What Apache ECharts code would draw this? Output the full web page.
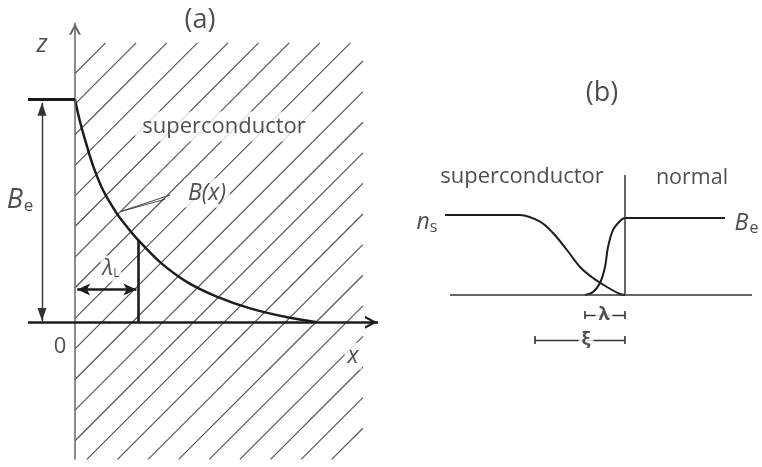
<!DOCTYPE html>
<html>
<head>
<meta charset="utf-8">
<script src="https://cdn.jsdelivr.net/npm/echarts@6/dist/echarts.min.js"></script>
<style>
  html, body { margin: 0; padding: 0; background: #fff; }
  #chart { width: 762px; height: 467px; }
</style>
</head>
<body>
<div id="chart"></div>
<script>
// ---------- Panel (a): field decay inside the superconductor ----------
// depth x in units of the London penetration depth, field in units of B_e
const depthA = [0, 0.08, 0.19, 0.29, 0.45, 0.66, 0.82, 1.0, 1.35, 1.78, 2.25, 2.78, 3.37, 3.84];
const fieldA = [1, 0.90, 0.79, 0.70, 0.59, 0.49, 0.43, 0.37, 0.27, 0.18, 0.115, 0.062, 0.022, 0.0];
const appliedField = 1;      // B_e
const londonDepth = 1;       // λ_L
const fieldAtLondonDepth = 0.37;
// superconductor slab (hatched): x range and z range
const slabX = [0, 4.57];
const slabZ = [-0.616, 1.254];
// axis extents
const xAxisSpanA = [-0.746, 4.81];
const zAxisSpanA = [-0.616, 1.345];
const beArrowX = -0.524;
const lambdaArrowZ = 0.147;

// ---------- Panel (b): N–S interface ----------
// position relative to the interface (arbitrary units), ordinate in units of n_s
const posNs = [-18, -10.5, -8.5, -7.2, -5.8, -4.5, -3.2, -1.8, -0.5, 0];
const valNs = [1, 1, 0.916, 0.775, 0.5625, 0.35, 0.2125, 0.1, 0.0125, 0];
const posB = [-4, -3.2, -2.5, -2, -1.7, -1.2, -0.5, 0, 10];
const valB = [0, 0.0375, 0.15, 0.35, 0.6, 0.81, 0.925, 0.9625, 0.9625];
const baselineSpanB = [-17.5, 12.7];
const interfaceTop = 1.5;
const lambdaSpan = [-4.0, 0];
const xiSpan = [-9.0, 0];
const lambdaRowY = -0.25;
const xiRowY = -0.5625;

const INK = '#1c1c1c';
const TEXT = '#222';
const SANS = '"Open Sans", "Noto Sans", sans-serif';

// arrowheads whose tip sits on the symbol centre (invisible dot sets the box)
const triHead = 'path://M5,12 L9,24 L1,24 Z M5,0 L5.01,0 L5,0.01 Z';
const barbHead = 'path://M5,12 L10,24 L5,21 L0,24 Z M5,0 L5.01,0 L5,0.01 Z';
const chevHead = 'path://M5,12 L10.8,22.5 L8.6,22.5 L5,16 L1.4,22.5 L-0.8,22.5 Z M5,0 L5.01,0 L5,0.01 Z';

function zip(a, b) { return a.map((v, i) => [v, b[i]]); }

function seg(p0, p1, style, s0, s1) {
  return [
    Object.assign({ coord: p0 }, s0 || { symbol: 'none' }),
    Object.assign({ coord: p1, lineStyle: style }, s1 || { symbol: 'none' })
  ];
}

// hatching of the superconducting slab, drawn through the axis scales
function renderHatch(params, api) {
  const p0 = api.coord([api.value(0), api.value(3)]);
  const p1 = api.coord([api.value(2), api.value(1)]);
  const L = p0[0], T = p0[1], R = p1[0], B = p1[1];
  const step = 30.6;
  const children = [];
  for (let C = L + T; C <= R + B + step; C += step) {
    const xs = Math.max(L, C - B);
    const xe = Math.min(R, C - T);
    if (xe - xs > 1) {
      children.push({
        type: 'line',
        shape: { x1: xs, y1: C - xs, x2: xe, y2: C - xe },
        style: { stroke: '#555', lineWidth: 1.2 }
      });
    }
  }
  return { type: 'group', children };
}

function txt(x, y, formatter, extra) {
  return {
    value: [x, y],
    label: Object.assign({
      show: true, position: 'inside', formatter,
      color: TEXT, fontFamily: SANS
    }, extra || {})
  };
}

const labelsA = [
  txt(1.984, 1.357, '(a)', { fontSize: 27 }),
  txt(-0.524, 1.246, 'z', { fontSize: 25, fontStyle: 'italic' }),
  txt(2.365, 0.879, 'superconductor', { fontSize: 22, backgroundColor: '#fff', padding: [4, 7] }),
  txt(2.095, 0.58, 'B(x)', { fontSize: 23, fontStyle: 'italic', backgroundColor: '#fff', padding: [3, 4] }),
  txt(-0.873, 0.549, '{b|B}{s|e}', {
    rich: {
      b: { fontSize: 27, fontStyle: 'italic', color: TEXT, fontFamily: SANS },
      s: { fontSize: 17, color: TEXT, fontFamily: SANS, padding: [12, 0, 0, 1] }
    }
  }),
  txt(0.571, 0.241, '{l|λ}{s|L}', {
    backgroundColor: '#fff', padding: [2, 2],
    rich: {
      l: { fontSize: 22, fontStyle: 'italic', color: TEXT, fontFamily: SANS },
      s: { fontSize: 12, color: TEXT, fontFamily: SANS, padding: [10, 0, 0, 0] }
    }
  }),
  txt(-0.238, -0.112, '0', { fontSize: 22 }),
  txt(4.413, -0.152, 'x', { fontSize: 23, fontStyle: 'italic', backgroundColor: '#fff', padding: [2, 3] })
];

const labelsB = [
  txt(-2.3, 2.525, '(b)', { fontSize: 27 }),
  txt(-10.3, 1.475, 'superconductor', { fontSize: 22 }),
  txt(6.7, 1.4625, 'normal', { fontSize: 21.5 }),
  txt(-19.8, 0.91, '{n|n}{s|s}', {
    rich: {
      n: { fontSize: 23, fontStyle: 'italic', color: TEXT, fontFamily: SANS },
      s: { fontSize: 16, color: TEXT, fontFamily: SANS, padding: [10, 0, 0, 0] }
    }
  }),
  txt(12.15, 0.894, '{b|B}{s|e}', {
    rich: {
      b: { fontSize: 23, fontStyle: 'italic', color: TEXT, fontFamily: SANS },
      s: { fontSize: 16, color: TEXT, fontFamily: SANS, padding: [10, 0, 0, 1] }
    }
  }),
  txt(-2.1, lambdaRowY, 'λ', { fontSize: 18, fontWeight: 'bold', backgroundColor: '#fff', padding: [0, 3] }),
  txt(-3.9, xiRowY, 'ξ', { fontSize: 18, fontWeight: 'bold', backgroundColor: '#fff', padding: [0, 3] })
];

const thin = { color: '#666', width: 1.5, type: 'solid' };
const bold = { color: INK, width: 2.6, type: 'solid' };
const mid = { color: '#333', width: 1.4, type: 'solid' };

const linesA = [
  // z axis
  seg([0, zAxisSpanA[0]], [0, zAxisSpanA[1]], thin, null, { symbol: chevHead, symbolSize: [12, 24] }),
  // x axis
  seg([xAxisSpanA[0], 0], [xAxisSpanA[1], 0], bold, null, { symbol: chevHead, symbolSize: [13, 26] }),
  // applied field level outside
  seg([xAxisSpanA[0], appliedField], [0, appliedField], { color: INK, width: 3, type: 'solid' }),
  // B_e double arrow
  seg([beArrowX, 0.005], [beArrowX, 0.985], mid,
      { symbol: triHead, symbolSize: [9, 26] }, { symbol: triHead, symbolSize: [9, 26] }),
  // λ_L marker
  seg([londonDepth, 0], [londonDepth, fieldAtLondonDepth], bold),
  seg([0.035, lambdaArrowZ], [londonDepth * 0.975, lambdaArrowZ], bold,
      { symbol: barbHead, symbolSize: [12, 26] }, { symbol: barbHead, symbolSize: [12, 26] }),
  // B(x) leader
  seg([0.714, 0.496], [1.508, 0.571], { color: '#444', width: 1, type: 'solid' }),
  seg([0.714, 0.496], [1.43, 0.552], { color: '#444', width: 1, type: 'solid' })
];

const tick = { symbol: 'rect', symbolSize: [8, 1.6] };
const linesB = [
  seg([baselineSpanB[0], 0], [baselineSpanB[1], 0], { color: '#333', width: 1.5, type: 'solid' }),
  seg([0, 0], [0, interfaceTop], { color: '#333', width: 1.5, type: 'solid' }),
  seg([lambdaSpan[0], lambdaRowY], [lambdaSpan[1], lambdaRowY], { color: '#333', width: 1.3, type: 'solid' }, tick, tick),
  seg([xiSpan[0], xiRowY], [xiSpan[1], xiRowY], { color: '#333', width: 1.3, type: 'solid' }, tick, tick)
];

function guideSeries(xi, data) {
  return {
    type: 'line', xAxisIndex: xi, yAxisIndex: xi, data: [], silent: true, z: 2,
    markLine: {
      silent: true, animation: false, label: { show: false },
      emphasis: { disabled: true },
      symbol: 'none', data
    }
  };
}

function labelSeries(xi, data) {
  return {
    type: 'scatter', xAxisIndex: xi, yAxisIndex: xi, symbolSize: 0, clip: false,
    silent: true, z: 10, data
  };
}

const chart = echarts.init(document.getElementById('chart'), null, { renderer: 'canvas' });
chart.setOption({
  animation: false,
  backgroundColor: '#fff',
  grid: [
    { left: 12, top: 10.4, width: 378, height: 459.2 },
    { left: 425, top: 167, width: 335, height: 208 }
  ],
  xAxis: [
    { type: 'value', min: -1, max: 5, show: false, gridIndex: 0 },
    { type: 'value', min: -20, max: 13.5, show: false, gridIndex: 1 }
  ],
  yAxis: [
    { type: 'value', min: -0.65, max: 1.4, show: false, gridIndex: 0 },
    { type: 'value', min: -1, max: 1.6, show: false, gridIndex: 1 }
  ],
  series: [
    {
      type: 'custom', xAxisIndex: 0, yAxisIndex: 0, silent: true, z: 1,
      renderItem: renderHatch,
      data: [[slabX[0], slabZ[0], slabX[1], slabZ[1]]]
    },
    guideSeries(0, linesA),
    {
      type: 'line', xAxisIndex: 0, yAxisIndex: 0, z: 3, silent: true,
      data: zip(depthA, fieldA), smooth: 0.35, symbol: 'none',
      lineStyle: { color: INK, width: 2.5 }
    },
    labelSeries(0, labelsA),
    guideSeries(1, linesB),
    {
      type: 'line', xAxisIndex: 1, yAxisIndex: 1, z: 3, silent: true,
      data: zip(posNs, valNs), smooth: 0.35, symbol: 'none',
      lineStyle: { color: INK, width: 2 }
    },
    {
      type: 'line', xAxisIndex: 1, yAxisIndex: 1, z: 3, silent: true,
      data: zip(posB, valB), smooth: 0.35, symbol: 'none',
      lineStyle: { color: INK, width: 2 }
    },
    labelSeries(1, labelsB)
  ]
});
</script>
</body>
</html>
